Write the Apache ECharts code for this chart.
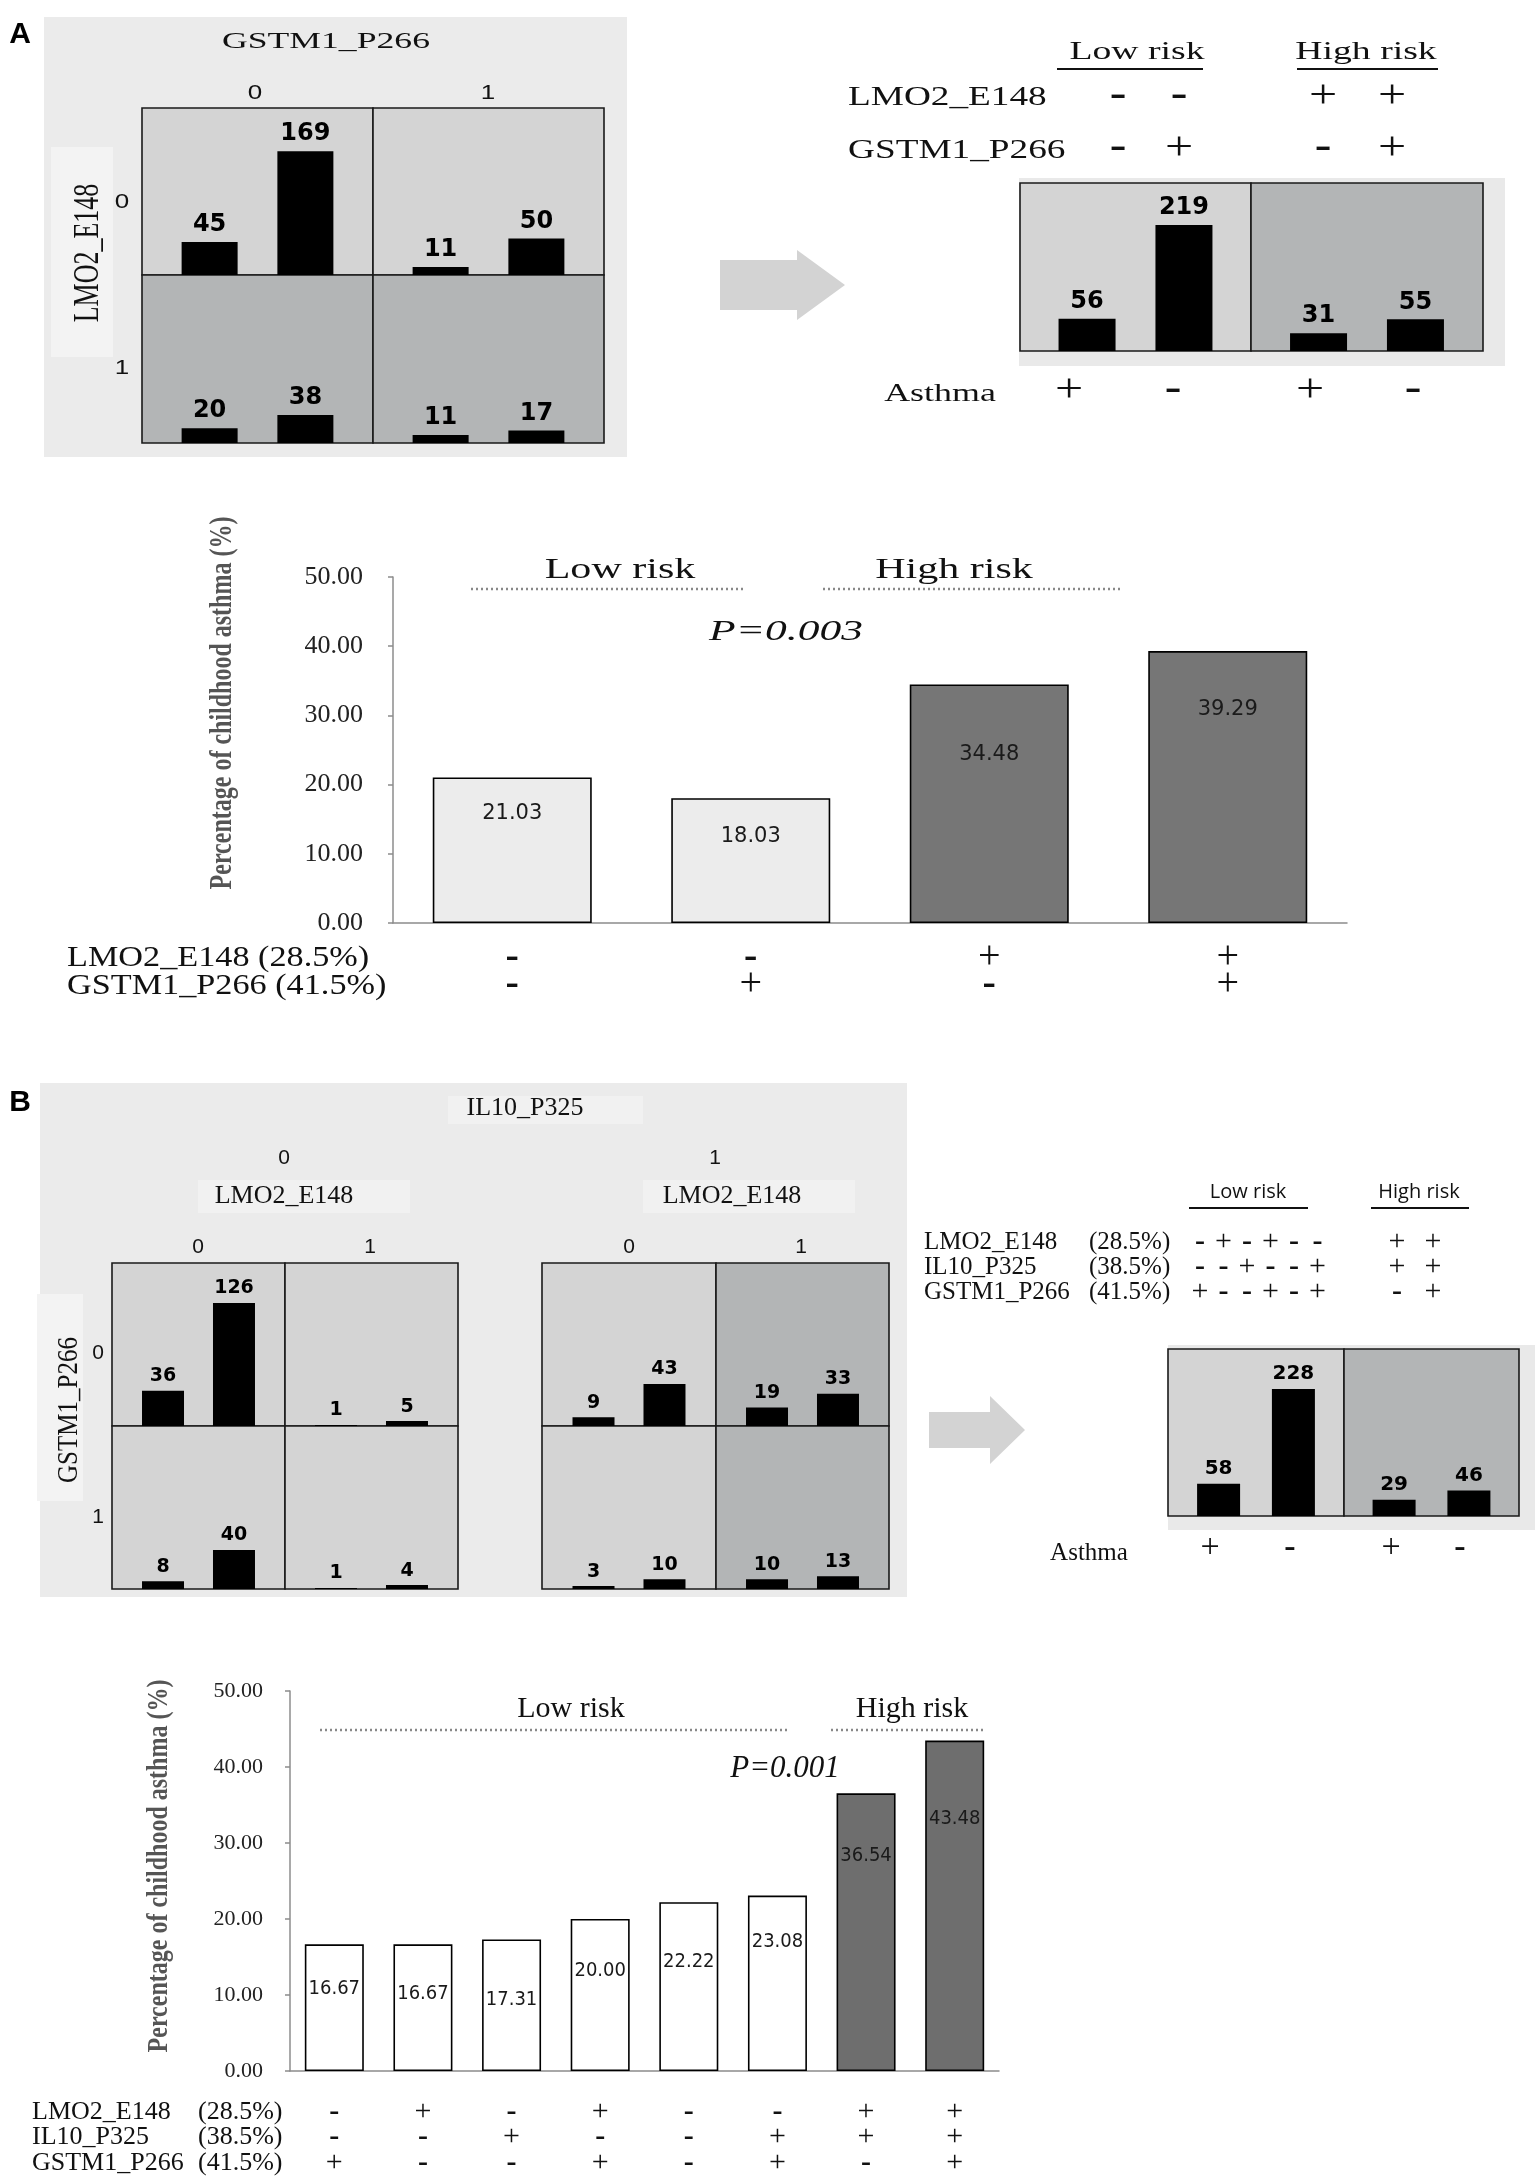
<!DOCTYPE html>
<html>
<head>
<meta charset="utf-8">
<script src="https://cdn.jsdelivr.net/npm/echarts@6/dist/echarts.min.js"></script>
<style>
html, body { margin: 0; padding: 0; background: #fff; }
#chart { width: 1535px; height: 2179px; }
</style>
</head>
<body>
<div id="chart"></div>
<script>
// ---- panel A : LMO2_E148 x GSTM1_P266 ----
// cells: (LMO2 0, GSTM1 0), (LMO2 0, GSTM1 1), (LMO2 1, GSTM1 0), (LMO2 1, GSTM1 1)
const casesA = [45, 11, 20, 11];
const controlsA = [169, 50, 38, 17];
const cellRiskA = ['low', 'low', 'high', 'high'];
const groupCasesA = [56, 31];
const groupControlsA = [219, 55];
const pctA = [21.03, 18.03, 34.48, 39.29];
const barRiskA = ['low', 'low', 'high', 'high'];
const lmoA = ['-', '-', '+', '+'];
const gstA = ['-', '+', '-', '+'];

// ---- panel B : IL10_P325 x LMO2_E148 x GSTM1_P266 ----
// cells: IL10 0 then IL10 1; each (GSTM1 0/LMO2 0), (GSTM1 0/LMO2 1), (GSTM1 1/LMO2 0), (GSTM1 1/LMO2 1)
const casesB = [36, 1, 8, 1, 9, 19, 3, 10];
const controlsB = [126, 5, 40, 4, 43, 33, 10, 13];
const cellRiskB = ['low', 'low', 'low', 'low', 'low', 'high', 'low', 'high'];
const groupCasesB = [58, 29];
const groupControlsB = [228, 46];
const pctB = [16.67, 16.67, 17.31, 20.00, 22.22, 23.08, 36.54, 43.48];
const barRiskB = ['low', 'low', 'low', 'low', 'low', 'low', 'high', 'high'];
const lmoB = ['-', '+', '-', '+', '-', '-', '+', '+'];
const il10B = ['-', '-', '+', '-', '-', '+', '+', '+'];
const gstB = ['+', '-', '-', '+', '-', '+', '-', '+'];

const asthmaMarks = ['+', '-'];
const riskNames = ['Low risk', 'High risk'];
const yName = 'Percentage of childhood asthma (%)';

// label offsets inside the big bars (style only)
const dropA = [26, 28, 60, 48];
const dropB = [34, 39, 50, 42, 50, 36, 53, 68];

const SERIF = '"Liberation Serif", "Times New Roman", serif';
const SANS = '"Liberation Sans", Arial, sans-serif';
const NUM = '"DejaVu Sans", sans-serif';
const NUMC = '"DejaVu Sans Condensed", "DejaVu Sans", sans-serif';
const LIGHT = '#d4d4d4', DARK = '#b3b5b6';

const grids = [], xAxes = [], yAxes = [], series = [], graphics = [];

const addGrid = (r, extra, xa, ya) => {
    grids.push(Object.assign({left: r[0], top: r[1], width: r[2], height: r[3], containLabel: false, outerBoundsMode: 'none'}, extra));
    const i = grids.length - 1;
    xAxes.push(Object.assign({gridIndex: i}, xa));
    yAxes.push(Object.assign({gridIndex: i}, ya));
    return i;
};

// one cell of a contingency panel: two black bars (asthma +, asthma -)
const cell = (r, risk, cases, controls, maxV, barW, gap, size) => {
    const g = addGrid(r, {show: true, backgroundColor: risk === 'high' ? DARK : LIGHT, borderColor: '#1a1a1a', borderWidth: 1.6},
        {type: 'category', data: ['c'], show: false},
        {type: 'value', min: 0, max: maxV, show: false});
    [cases, controls].forEach(v => series.push({
        type: 'bar', xAxisIndex: g, yAxisIndex: g, data: [v], barWidth: barW, barGap: gap,
        itemStyle: {color: '#000'}, silent: true,
        label: {show: true, position: 'top', distance: 5, fontFamily: NUM, fontWeight: 'bold', fontSize: size, color: '#000'}
    }));
};

const signRich = (size, lh) => ({
    m: {fontFamily: SERIF, fontSize: size, fontWeight: 'bold', lineHeight: lh, color: '#111'},
    p: {fontFamily: SERIF, fontSize: size, lineHeight: lh, color: '#111'}
});

const mainChart = (r, pct, risk, rows, drop, o) => {
    const axisCol = '#8c8c8c';
    const g = addGrid(r, {},
        {type: 'category', data: pct.map((v, i) => 'c' + i),
            axisLine: {lineStyle: {color: axisCol, width: 1.5}},
            axisTick: {length: 7, lineStyle: {color: axisCol, width: 1.5}},
            axisLabel: {interval: 0, margin: o.margin,
                formatter: (v, i) => rows.map(m => m[i] === '-' ? '{m|-}' : '{p|+}').join('\n'),
                rich: signRich(o.sign, o.lh)}},
        {type: 'value', min: 0, max: 50, interval: 10,
            axisLine: {show: true, lineStyle: {color: axisCol, width: 1.5}},
            axisTick: {show: true, length: 5, lineStyle: {color: axisCol, width: 1.5}},
            splitLine: {show: false},
            axisLabel: {formatter: v => v.toFixed(2), fontFamily: SERIF, fontSize: o.tick, color: '#222', margin: o.tickMargin}});
    series.push({
        type: 'bar', xAxisIndex: g, yAxisIndex: g, barWidth: o.barW, silent: true,
        data: pct.map((v, i) => ({value: v, itemStyle: {color: risk[i] === 'high' ? o.dark : o.light}, label: {distance: drop[i]}})),
        itemStyle: {borderColor: '#000', borderWidth: 1.6},
        label: {show: true, position: 'insideTop', formatter: p => p.value.toFixed(2), fontFamily: o.labelFont, fontSize: o.labelSize, color: '#1a1a1a'}
    });
};

const text = (x, y, s, o = {}) => graphics.push({
    type: 'text', x, y, scaleX: o.sx || 1, scaleY: o.sy || 1, rotation: o.rot || 0, silent: true, z: 100,
    style: {text: s, fontFamily: o.font || SERIF, fontSize: o.size || 24, fontWeight: o.bold ? 'bold' : 'normal',
        fontStyle: o.italic ? 'italic' : 'normal', fill: o.color || '#111', align: o.align || 'center', verticalAlign: 'middle'}
});
const rect = (x, y, w, h, fill) => graphics.push({type: 'rect', z: -10, silent: true, shape: {x, y, width: w, height: h}, style: {fill}});
const line = (x1, y1, x2, y2, stroke, width, dash) => graphics.push({
    type: 'line', z: 100, silent: true, shape: {x1, y1, x2, y2}, style: {stroke, lineWidth: width, lineDash: dash || null}
});
const arrow = (x0, xb, x1, yc, hb, hh) => graphics.push({
    type: 'polygon', z: 5, silent: true,
    shape: {points: [[x0, yc - hb], [xb, yc - hb], [xb, yc - hh], [x1, yc], [xb, yc + hh], [xb, yc + hb], [x0, yc + hb]]},
    style: {fill: '#d3d3d3'}
});
const sign = (x, y, s, size, sx) => text(x, y, s, {size, bold: s === '-', sx: sx || 1});

// ================= PANEL A =================
text(20, 35, 'A', {font: SANS, size: 30, bold: true, color: '#000'});
rect(44, 17, 583, 440, '#ebebeb');
rect(51, 147, 62, 210, '#f3f3f3');
text(326, 42, 'GSTM1_P266', {size: 23, sx: 1.55});
text(255, 93, '0', {font: SANS, size: 20, sx: 1.3});
text(488, 93, '1', {font: SANS, size: 20, sx: 1.3});
text(122, 202, '0', {font: SANS, size: 20, sx: 1.3});
text(122, 368, '1', {font: SANS, size: 20, sx: 1.3});
text(89, 253, 'LMO2_E148', {size: 26, sy: 1.35, rot: Math.PI / 2});

const cellRectA = [[142, 108, 231, 167], [373, 108, 231, 167], [142, 275, 231, 168], [373, 275, 231, 168]];
casesA.forEach((v, i) => cell(cellRectA[i], cellRiskA[i], v, controlsA[i], 228, 56, '71%', 24));

// combined low / high risk
arrow(720, 797, 845, 285, 25, 35);
rect(1019, 178, 486, 188, '#e9e9e9');
const riskXA = [1137, 1366], lineA = [[1057, 1203], [1297, 1438]];
riskNames.forEach((s, i) => {
    text(riskXA[i], 52, s, {size: 26, sx: 1.45});
    line(lineA[i][0], 69, lineA[i][1], 69, '#111', 2);
});
text(848, 98, 'LMO2_E148', {size: 27, sx: 1.38, align: 'left'});
text(848, 151, 'GSTM1_P266', {size: 27, sx: 1.38, align: 'left'});
const markXA = [1118, 1179, 1323, 1392];
lmoA.forEach((s, i) => sign(markXA[i], 96, s, 40, 1.25));
gstA.forEach((s, i) => sign(markXA[i], 148, s, 40, 1.25));
const groupRectA = [[1020, 183, 231, 168], [1251, 183, 232, 168]];
groupCasesA.forEach((v, i) => cell(groupRectA[i], i ? 'high' : 'low', v, groupControlsA[i], 292, 57, '70%', 24));
text(940, 394, 'Asthma', {size: 26, sx: 1.38});
const asthmaXA = [1069, 1173, 1310, 1413];
asthmaXA.forEach((x, i) => sign(x, 390, asthmaMarks[i % 2], 40, 1.25));

// percentage chart
mainChart([393, 577, 954, 346], pctA, barRiskA, [lmoA, gstA], dropA,
    {barW: 159, light: '#ececec', dark: '#767676', tick: 26, tickMargin: 30, margin: 21, lh: 27, sign: 40, labelFont: NUM, labelSize: 21});
text(223, 703, yName, {size: 24, bold: true, color: '#555', sy: 1.3, rot: Math.PI / 2});
text(620, 570, riskNames[0], {size: 29, sx: 1.45});
text(954, 570, riskNames[1], {size: 29, sx: 1.45});
line(471, 589, 746, 589, '#888', 2.5, [2, 3]);
line(823, 589, 1121, 589, '#888', 2.5, [2, 3]);
text(786, 632, 'P=0.003', {size: 30, italic: true, sx: 1.45});
text(67, 958, 'LMO2_E148 (28.5%)', {size: 29, sx: 1.18, align: 'left'});
text(67, 986, 'GSTM1_P266 (41.5%)', {size: 29, sx: 1.18, align: 'left'});

// ================= PANEL B =================
text(20, 1103, 'B', {font: SANS, size: 30, bold: true, color: '#000'});
rect(40, 1083, 867, 514, '#ebebeb');
rect(448, 1096, 195, 28, '#f1f1f1');
rect(198, 1180, 212, 33, '#f1f1f1');
rect(643, 1180, 212, 33, '#f1f1f1');
rect(37, 1294, 46, 207, '#f3f3f3');
text(525, 1108, 'IL10_P325', {size: 26});
text(284, 1158, '0', {font: SANS, size: 21});
text(715, 1158, '1', {font: SANS, size: 21});
text(284, 1196, 'LMO2_E148', {size: 26});
text(732, 1196, 'LMO2_E148', {size: 26});
[[198, '0'], [370, '1'], [629, '0'], [801, '1']].forEach(([x, s]) => text(x, 1247, s, {font: SANS, size: 21}));
text(98, 1353, '0', {font: SANS, size: 21});
text(98, 1517, '1', {font: SANS, size: 21});
text(69, 1410, 'GSTM1_P266', {size: 25, sy: 1.15, rot: Math.PI / 2});

const boxXB = [[112, 285, 458], [542, 716, 889]];
casesB.forEach((v, i) => {
    const bx = boxXB[Math.floor(i / 4)], col = i % 2, row = Math.floor(i / 2) % 2;
    const r = [bx[col], row ? 1426 : 1263, bx[col + 1] - bx[col], 163];
    cell(r, cellRiskB[i], v, controlsB[i], 167, 42, '69%', 19);
});

// combined low / high risk
arrow(929, 990, 1025, 1430, 18, 34);
rect(1168, 1345, 367, 185, '#e9e9e9');
const riskXB = [1248, 1419], lineB = [[1189, 1308], [1371, 1469]];
riskNames.forEach((s, i) => {
    text(riskXB[i], 1192, s, {font: '"Open Sans", "Noto Sans", sans-serif', size: 20});
    line(lineB[i][0], 1208, lineB[i][1], 1208, '#111', 2);
});
const rowNamesB = [['LMO2_E148', '(28.5%)'], ['IL10_P325', '(38.5%)'], ['GSTM1_P266', '(41.5%)']];
const rowYB = [1242, 1267, 1292];
const markXB = [1200, 1223.5, 1247, 1270.5, 1294, 1317.5, 1397, 1433];
[lmoB, il10B, gstB].forEach((row, k) => {
    text(924, rowYB[k], rowNamesB[k][0], {size: 25, align: 'left'});
    text(1089, rowYB[k], rowNamesB[k][1], {size: 25, align: 'left'});
    row.forEach((s, i) => sign(markXB[i], rowYB[k], s, 30));
});
const groupRectB = [[1168, 1349, 176, 167], [1344, 1349, 175, 167]];
groupCasesB.forEach((v, i) => cell(groupRectB[i], i ? 'high' : 'low', v, groupControlsB[i], 300, 43, '74%', 20));
text(1089, 1553, 'Asthma', {size: 25});
const asthmaXB = [1210, 1290, 1391, 1460];
asthmaXB.forEach((x, i) => sign(x, 1548, asthmaMarks[i % 2], 34));

// percentage chart
mainChart([290, 1691, 709, 380], pctB, barRiskB, [lmoB, il10B, gstB], dropB,
    {barW: 59, light: '#ffffff', dark: '#6e6e6e', tick: 22, tickMargin: 27, margin: 28, lh: 25.5, sign: 30, labelFont: NUMC, labelSize: 20});
text(160, 1866, yName, {size: 24, bold: true, color: '#555', sy: 1.2, rot: Math.PI / 2});
text(571, 1709, riskNames[0], {size: 30});
text(912, 1709, riskNames[1], {size: 30});
line(320, 1730, 790, 1730, '#888', 2.5, [2, 3]);
line(831, 1730, 986, 1730, '#888', 2.5, [2, 3]);
text(785, 1769, 'P=0.001', {size: 31, italic: true});
rowNamesB.forEach((n, k) => {
    text(32, 2112 + k * 25.5, n[0], {size: 26, align: 'left'});
    text(198, 2112 + k * 25.5, n[1], {size: 26, align: 'left'});
});

window.addEventListener('load', () => {
    const myChart = echarts.init(document.getElementById('chart'));
    myChart.setOption({
        animation: false,
        backgroundColor: '#fff',
        grid: grids,
        xAxis: xAxes,
        yAxis: yAxes,
        series: series,
        graphic: {elements: graphics}
    });
});
</script>
</body>
</html>
